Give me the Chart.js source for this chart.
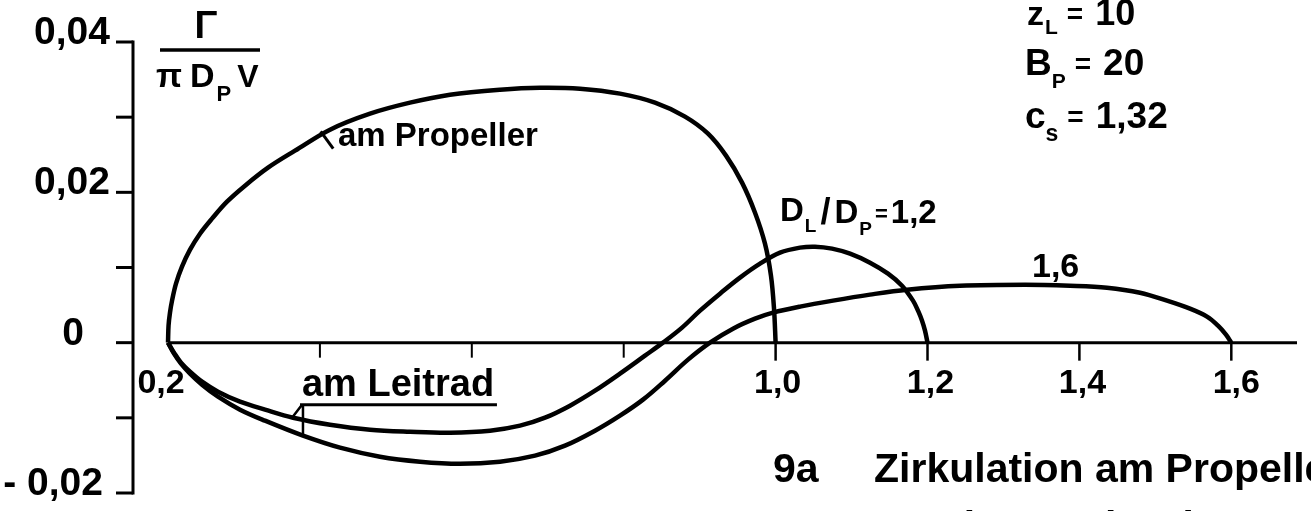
<!DOCTYPE html>
<html>
<head>
<meta charset="utf-8">
<script src="https://cdn.jsdelivr.net/npm/chart.js@4/dist/chart.umd.min.js"></script>
<style>
  html, body { margin: 0; padding: 0; background: #fff; }
  #wrap { width: 1311px; height: 511px; position: relative; }
</style>
</head>
<body>
<div id="wrap"><canvas id="c"></canvas></div>
<script>
// Circulation Γ/(π·D_P·v) over the radius ratio, propeller and stator (Leitrad)

// am Propeller
const propX = [0.2, 0.2007, 0.2026, 0.2053, 0.2105, 0.2184, 0.229, 0.2421, 0.2579, 0.2777,
               0.3014, 0.3317, 0.3672, 0.4133, 0.466, 0.5186, 0.5713, 0.6371, 0.6898, 0.7425,
               0.7951, 0.8412, 0.8807, 0.911, 0.9347, 0.9558, 0.9729, 0.986, 0.9939, 0.9979, 1.0];
const propY = [0, 0.00226, 0.00399, 0.00559, 0.00785, 0.01011, 0.01237, 0.0145, 0.0165, 0.01876,
               0.02089, 0.02328, 0.02554, 0.02834, 0.03047, 0.03193, 0.03299, 0.03366, 0.03392, 0.03379,
               0.03313, 0.03193, 0.03007, 0.0278, 0.02488, 0.02129, 0.01729, 0.01317, 0.00891, 0.00452, 0];

// am Leitrad, D_L/D_P = 1,2
const leit12X = [0.2, 0.2079, 0.2171, 0.229, 0.2448, 0.2658, 0.2948, 0.3277, 0.3646, 0.4133,
                 0.466, 0.5186, 0.5713, 0.624, 0.6635, 0.6964, 0.7293, 0.7622, 0.7951, 0.828,
                 0.8517, 0.8768, 0.9005, 0.9268, 0.9531, 0.9795, 1.0058, 1.0321, 1.0519, 1.0743,
                 1.098, 1.1243, 1.148, 1.1664, 1.1809, 1.1875, 1.1928, 1.1967, 1.2];
const leit12Y = [0, -0.00133, -0.00266, -0.00386, -0.00519, -0.00652, -0.00785, -0.00891, -0.00998, -0.01091,
                 -0.01157, -0.01184, -0.01197, -0.01171, -0.01104, -0.00998, -0.00838, -0.00639, -0.00412, -0.00173,
                 0, 0.002, 0.00426, 0.00652, 0.00865, 0.01051, 0.01197, 0.01264, 0.01277, 0.01251,
                 0.01184, 0.01064, 0.00918, 0.00758, 0.00559, 0.00426, 0.00293, 0.0016, 0];

// am Leitrad, D_L/D_P = 1,6
const leit16X = [0.2, 0.2079, 0.2171, 0.229, 0.2448, 0.2658, 0.2948, 0.3277, 0.3777, 0.4265,
                 0.4791, 0.5318, 0.5845, 0.6371, 0.6832, 0.7227, 0.7622, 0.7951, 0.8254, 0.8544,
                 0.8847, 0.9136, 0.9439, 0.9729, 0.9966, 1.0321, 1.0756, 1.1243, 1.173, 1.2428,
                 1.3284, 1.3876, 1.4363, 1.4798, 1.5153, 1.5456, 1.568, 1.5825, 1.593, 1.6];
const leit16Y = [0, -0.00146, -0.00279, -0.00412, -0.00559, -0.00718, -0.00891, -0.01038, -0.01237, -0.01397,
                 -0.01517, -0.01583, -0.0161, -0.01583, -0.01503, -0.0137, -0.01171, -0.00971, -0.00758, -0.00506,
                 -0.00226, 0, 0.00186, 0.00319, 0.00399, 0.00479, 0.00559, 0.00639, 0.00705, 0.00758,
                 0.00772, 0.00758, 0.00732, 0.00665, 0.00559, 0.00452, 0.00346, 0.00226, 0.00106, 0];

// axis ticks
const xTickValues = [0.2, 0.4, 0.6, 0.8, 1.0, 1.2, 1.4, 1.6];
const xTickLabels = ['0,2', '', '', '', '1,0', '1,2', '1,4', '1,6'];
const yTickValues = [0.04, 0.03, 0.02, 0.01, 0, -0.01, -0.02];
const yTickLabels = ['0,04', '', '0,02', '', '0', '', '- 0,02'];

// axis range
const X_MIN = 0.1539, X_MAX = 1.6865;
const Y_MIN = -0.02, Y_MAX = 0.04;

// label anchors (x: right edge of y tick labels; dx: shift of x tick labels)
const yLabelRight = [110, 0, 110, 0, 84, 0, 103];
const xLabelShift = [-7, 0, 0, 0, 2, 3, 3, 5];

const toPts = (xs, ys) => xs.map((x, i) => ({ x: x, y: ys[i] }));
const FONT = '"Liberation Sans", Arial, sans-serif';
const INK = '#000';

function font(ctx, size) { ctx.font = 'bold ' + size + 'px ' + FONT; }

// draws a sequence of [text, size, dx, dy] pieces starting at (x, y)
function pieces(ctx, x, y, list) {
  let cx = x;
  ctx.textAlign = 'left';
  ctx.textBaseline = 'alphabetic';
  for (const [t, size, dx, dy] of list) {
    cx += dx || 0;
    font(ctx, size);
    ctx.fillText(t, cx, y + (dy || 0));
    cx += ctx.measureText(t).width;
  }
}

const drawing = {
  id: 'drawing',
  afterDatasetsDraw(chart) {
    const ctx = chart.ctx;
    const xs = chart.scales.x, ys = chart.scales.y;
    const px = v => xs.getPixelForValue(v);
    const py = v => ys.getPixelForValue(v);
    ctx.save();
    ctx.strokeStyle = INK;
    ctx.fillStyle = INK;
    ctx.lineCap = 'butt';

    // y axis
    const ax = chart.chartArea.left;
    ctx.lineWidth = 3;
    ctx.beginPath();
    ctx.moveTo(ax, py(Y_MAX) - 1.5);
    ctx.lineTo(ax, py(Y_MIN) + 1.5);
    ctx.stroke();
    yTickValues.forEach((v, i) => {
      ctx.lineWidth = 3;
      ctx.beginPath();
      ctx.moveTo(ax - 17, py(v));
      ctx.lineTo(ax, py(v));
      ctx.stroke();
      if (yTickLabels[i]) {
        font(ctx, 39);
        ctx.textAlign = 'right';
        ctx.textBaseline = 'alphabetic';
        ctx.fillText(yTickLabels[i], yLabelRight[i], py(v) + 2);
      }
    });

    // x axis along y = 0
    const y0 = py(0);
    ctx.lineWidth = 3;
    ctx.beginPath();
    ctx.moveTo(px(0.2), y0);
    ctx.lineTo(chart.chartArea.right, y0);
    ctx.stroke();
    xTickValues.forEach((v, i) => {
      if (i > 0) {
        ctx.lineWidth = i < 4 ? 2 : 2.5;
        ctx.beginPath();
        ctx.moveTo(px(v), y0);
        ctx.lineTo(px(v), y0 + (i < 4 ? 15 : 18));
        ctx.stroke();
      }
      if (xTickLabels[i]) {
        font(ctx, 34);
        ctx.textAlign = 'center';
        ctx.textBaseline = 'alphabetic';
        ctx.fillText(xTickLabels[i], px(v) + xLabelShift[i], y0 + 50);
      }
    });

    // y axis title  Γ / (π D_P v)
    font(ctx, 38);
    ctx.textAlign = 'center';
    ctx.fillText('Γ', 206, 38);
    ctx.lineWidth = 3.5;
    ctx.beginPath();
    ctx.moveTo(160, 50);
    ctx.lineTo(260, 50);
    ctx.stroke();
    pieces(ctx, 156, 87, [['π', 34, 0, 0], ['D', 34, 8, 0], ['P', 22, 2, 14], ['V', 32, 6, 0]]);

    // parameters
    pieces(ctx, 1027, 25, [['z', 34, 0, 0], ['L', 21, 1, 9], ['=', 28, 9, -2], ['10', 36, 12, 0]]);
    pieces(ctx, 1025, 75, [['B', 37, 0, 0], ['P', 21, 0, 13], ['=', 28, 9, -2], ['20', 37, 12, 0]]);
    pieces(ctx, 1025, 128, [['c', 37, 0, 0], ['s', 23, 0, 13], ['=', 28, 9, -2], ['1,32', 37, 12, 0]]);

    // curve labels
    ctx.lineWidth = 3;
    ctx.beginPath();
    ctx.moveTo(px(0.401), py(0.0281));
    ctx.lineTo(px(0.4175), py(0.0258));
    ctx.stroke();
    pieces(ctx, px(0.4238), py(0.0261), [['am Propeller', 33, 0, 0]]);

    pieces(ctx, px(1.0058), py(0.0162), [['D', 33, 0, 0], ['L', 19, 1, 11], ['/', 36, 4, 3],
      ['D', 33, 4, 2], ['P', 19, 1, 14], ['=', 22, 3, 0], ['1,2', 33, 3, 2]]);
    pieces(ctx, px(1.3376), py(0.0087), [['1,6', 34, 0, 0]]);

    pieces(ctx, px(0.3764), py(-0.0071), [['am Leitrad', 38, 0, 0]]);
    ctx.lineWidth = 3;
    ctx.beginPath();
    ctx.moveTo(px(0.3738), py(-0.00825));
    ctx.lineTo(px(0.6331), py(-0.00825));
    ctx.stroke();
    ctx.lineWidth = 2.5;
    ctx.beginPath();
    ctx.moveTo(px(0.3764), py(-0.00825));
    ctx.lineTo(px(0.3633), py(-0.0100));
    ctx.moveTo(px(0.3777), py(-0.00825));
    ctx.lineTo(px(0.3777), py(-0.0124));
    ctx.stroke();

    // caption
    pieces(ctx, 773, 482, [['9a', 41, 0, 0]]);
    pieces(ctx, 874, 482, [['Zirkulation am Propeller', 41, 0, 0]]);
    pieces(ctx, 900, 540, [['und am Leitrad', 41, 0, 0]]);

    ctx.restore();
  }
};

const lineStyle = {
  showLine: true,
  borderColor: INK,
  borderWidth: 4.5,
  pointRadius: 0,
  pointHoverRadius: 0,
  fill: false,
  tension: 0.35,
  clip: false
};

new Chart(document.getElementById('c'), {
  type: 'scatter',
  data: {
    datasets: [
      Object.assign({ label: 'am Propeller', data: toPts(propX, propY) }, lineStyle),
      Object.assign({ label: 'am Leitrad, D_L/D_P = 1,2', data: toPts(leit12X, leit12Y) }, lineStyle),
      Object.assign({ label: 'am Leitrad, D_L/D_P = 1,6', data: toPts(leit16X, leit16Y) }, lineStyle)
    ]
  },
  options: {
    responsive: true,
    maintainAspectRatio: false,
    devicePixelRatio: 1,
    animation: false,
    events: [],
    layout: { padding: { left: 133, right: 14, top: 42, bottom: 18 } },
    plugins: { legend: { display: false }, tooltip: { enabled: false } },
    scales: {
      x: { type: 'linear', min: X_MIN, max: X_MAX, display: false },
      y: { type: 'linear', min: Y_MIN, max: Y_MAX, display: false }
    }
  },
  plugins: [drawing]
});
</script>
</body>
</html>
